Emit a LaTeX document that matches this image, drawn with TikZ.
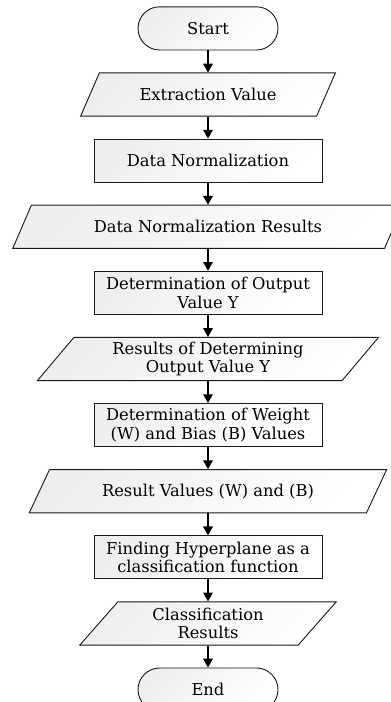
\documentclass[tikz,border=0pt]{standalone}
\usepackage{fontspec}
\setmainfont{DejaVu Serif}
\usetikzlibrary{arrows.meta,positioning,shapes.geometric}

\begin{document}
\begin{tikzpicture}[
    font=\fontsize{11.6}{13}\selectfont,
    box/.style={draw=black!90, line width=0.65pt, align=center, minimum height=10.8mm,
                inner sep=2pt, top color=gray!13, bottom color=white, shading angle=45},
    term/.style={box, rounded corners=5.4mm, minimum width=35mm},
    proc/.style={box, minimum width=57mm},
    io/.style={box, trapezium, trapezium left angle=56, trapezium right angle=124,
               trapezium stretches=true},
    flow/.style={->, line width=1pt},
    >={Triangle[width=2.4mm,length=2.2mm]}, node distance=5.5mm,
    ]
\useasboundingbox (0,0) rectangle (9.75,-17.55);

\node[term] (start) at (5.2,-0.71) {Start};
\node[io, below=of start, minimum width=63.7mm] (extr) {Extraction Value};
\node[proc, below=of extr] (norm) {Data Normalization};
\node[io, below=of norm, minimum width=97.7mm] (normres) {Data Normalization Results};
\node[proc, below=of normres] (outy) {Determination of Output\\Value Y};
\node[io, below=of outy, minimum width=85.5mm] (outyres) {Results of Determining\\Output Value Y};
\node[proc, below=of outyres] (wb) {Determination of Weight\\(W) and Bias (B) Values};
\node[io, below=of wb, minimum width=89.5mm] (wbres) {Result Values (W) and (B)};
\node[proc, below=of wbres] (hyper) {Finding Hyperplane as a\\classification function};
\node[io, below=of hyper, minimum width=64.2mm] (class) {Classification\\Results};
\node[term, below=of class] (end) {End};

% main flow, top to bottom
\foreach \a/\b in {start/extr, extr/norm, norm/normres, normres/outy, outy/outyres,
                   outyres/wb, wb/wbres, wbres/hyper, hyper/class, class/end}
  \draw[flow] (\a.south) -- (\b.north);
\end{tikzpicture}
\end{document}
